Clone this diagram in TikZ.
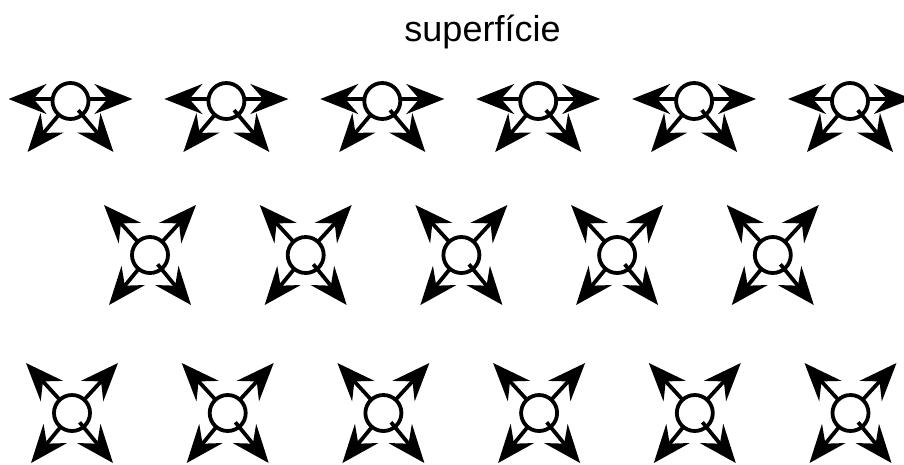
\documentclass[tikz,border=0pt]{standalone}
\usepackage{fontspec}
\setmainfont{Liberation Sans}
\usetikzlibrary{arrows.meta,calc}
\begin{document}
\begin{tikzpicture}[x=1pt,y=-1pt,
  ring/.style={circle,draw,line width=3.8pt,minimum size=36pt,inner sep=0pt},
  ray/.style={line width=3.8pt,-{Stealth[length=38pt,width=30pt,inset=13pt]}},
  lbl/.style={font=\fontsize{36}{40}\selectfont,anchor=base,inner sep=0pt}]
\useasboundingbox (0,0) rectangle (904,464);
\node[lbl] (title) at (482.5,41.7) {superfície};
% top row
\foreach \i in {0,...,5}{
  \pgfmathsetmacro\cx{70.5+155.9*\i}
  \node[ring] (t\i) at (\cx,101) {};
  \coordinate (t\i sl) at (\cx-17,99);
  \coordinate (t\i sr) at (\cx+17,99);
  \coordinate (t\i l) at (\cx-62,99);
  \coordinate (t\i r) at (\cx+62,99);
  \coordinate (t\i dl) at (\cx-43,152);
  \coordinate (t\i dr) at (\cx+43,152);
  \draw[ray] (t\i sl) -- (t\i l);
  \draw[ray] (t\i sr) -- (t\i r);
  \draw[ray] ($(t\i)!17pt!(t\i dl)$) -- (t\i dl);
  \draw[ray] ($(t\i)!12pt!(t\i dr)$) -- (t\i dr);
}
% middle row
\foreach \i in {0,...,4}{
  \pgfmathsetmacro\cx{150+155.7*\i}
  \node[ring] (m\i) at (\cx,255) {};
  \coordinate (m\i ul) at (\cx-46,205);
  \coordinate (m\i ur) at (\cx+46,205);
  \coordinate (m\i dl) at (\cx-41,305);
  \coordinate (m\i dr) at (\cx+41,305);
  \draw[ray] ($(m\i)!17pt!(m\i ul)$) -- (m\i ul);
  \draw[ray] ($(m\i)!17pt!(m\i ur)$) -- (m\i ur);
  \draw[ray] ($(m\i)!17pt!(m\i dl)$) -- (m\i dl);
  \draw[ray] ($(m\i)!12pt!(m\i dr)$) -- (m\i dr);
}
% bottom row
\foreach \i in {0,...,5}{
  \pgfmathsetmacro\cx{72+155.7*\i}
  \node[ring] (b\i) at (\cx,413) {};
  \coordinate (b\i ul) at (\cx-46,363);
  \coordinate (b\i ur) at (\cx+46,363);
  \coordinate (b\i dl) at (\cx-41,463);
  \coordinate (b\i dr) at (\cx+41,463);
  \draw[ray] ($(b\i)!17pt!(b\i ul)$) -- (b\i ul);
  \draw[ray] ($(b\i)!17pt!(b\i ur)$) -- (b\i ur);
  \draw[ray] ($(b\i)!17pt!(b\i dl)$) -- (b\i dl);
  \draw[ray] ($(b\i)!12pt!(b\i dr)$) -- (b\i dr);
}
\end{tikzpicture}
\end{document}
